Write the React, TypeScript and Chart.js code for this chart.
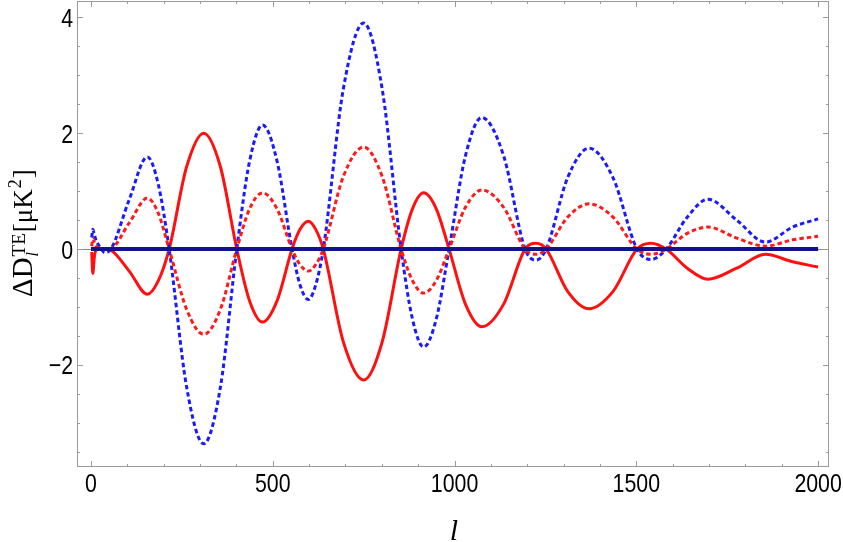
import React, { useEffect, useRef } from "react";
import { Chart, registerables } from "chart.js";
Chart.register(...registerables);

// multipole l
const ell = [2, 5, 9, 14, 25, 38, 55, 105, 155, 185, 215, 263, 310, 356, 401, 436, 472, 512, 553, 575, 598, 618, 639, 694, 750, 801, 853, 884, 915, 950, 985, 1030, 1075, 1135, 1194, 1224, 1252, 1311, 1370, 1436, 1502, 1541, 1582, 1640, 1697, 1776, 1855, 1930, 2000];

// red solid
const redSolid = [-0.05, -0.42, -0.15, -0.02, 0.0, 0.0, -0.02, -0.38, -0.78, -0.55, 0, 1.42, 2.0, 1.42, 0, -0.89, -1.26, -0.89, 0, 0.34, 0.48, 0.34, 0, -1.6, -2.26, -1.6, 0, 0.69, 0.97, 0.69, 0, -0.95, -1.34, -0.95, 0, 0.1, 0, -0.73, -1.03, -0.73, 0, 0.1, 0, -0.33, -0.52, -0.33, -0.09, -0.22, -0.31];

// red dotted
const redDotted = [0.05, 0.18, 0.12, 0.05, 0.01, 0.0, 0.01, 0.45, 0.88, 0.62, 0, -1.04, -1.47, -1.04, 0, 0.69, 0.97, 0.69, 0, -0.27, -0.38, -0.27, 0, 1.25, 1.76, 1.25, 0, -0.54, -0.76, -0.54, 0, 0.72, 1.02, 0.72, 0, -0.09, 0, 0.55, 0.78, 0.55, 0, -0.09, 0, 0.27, 0.38, 0.19, 0.05, 0.16, 0.22];

// blue dotted
const blueDotted = [0.2, 0.34, 0.25, 0.15, 0.03, -0.06, 0.0, 0.85, 1.59, 1.12, 0, -2.38, -3.36, -2.38, 0, 1.51, 2.14, 1.51, 0, -0.62, -0.87, -0.62, 0, 2.76, 3.9, 2.76, 0, -1.2, -1.69, -1.2, 0, 1.61, 2.27, 1.61, 0, -0.19, 0, 1.23, 1.74, 1.23, 0, -0.18, 0, 0.55, 0.86, 0.5, 0.12, 0.38, 0.52];

// reference (zero) line
const refL = [0, 2000];
const refV = [0, 0];

const xTickLabels = [0, 500, 1000, 1500, 2000];
const yTickLabels = [-2, 0, 2, 4];
const xMinorTicks = Array.from({ length: 21 }, (_, i) => i * 100);
const yMinorTicks = [-3.5, -3, -2.5, -2, -1.5, -1, -0.5, 0, 0.5, 1, 1.5, 2, 2.5, 3, 3.5, 4];

const X_MIN = -38.5;
const X_MAX = 2030;
const Y_MIN = -3.76;
const Y_MAX = 4.28;

const pts = (xs: number[], ys: number[]) => xs.map((x, i) => ({ x, y: ys[i] }));
const fmt = (v: number) => (v < 0 ? "\u2212" + Math.abs(v) : String(v));

const zeroAxisPlugin = {
  id: "zeroAxis",
  beforeDatasetsDraw(chart: any) {
    const { ctx, chartArea, scales } = chart;
    const y = Math.round(scales.y.getPixelForValue(0)) + 0.5;
    ctx.save();
    ctx.strokeStyle = "#8a8a8a";
    ctx.lineWidth = 1.2;
    ctx.beginPath();
    ctx.moveTo(chartArea.left, y);
    ctx.lineTo(chartArea.right, y);
    ctx.stroke();
    ctx.restore();
  },
};

const SQUEEZE = 0.82;
const drawSqueezed = (ctx: any, text: string, x: number, y: number, align: "center" | "right") => {
  ctx.save();
  ctx.translate(x, y);
  ctx.scale(SQUEEZE, 1);
  ctx.textAlign = align;
  ctx.fillText(text, 0, 0);
  ctx.restore();
};

const framePlugin = {
  id: "frame",
  afterDraw(chart: any) {
    const { ctx, chartArea, scales } = chart;
    const { left, right, top, bottom } = chartArea;
    ctx.save();
    ctx.strokeStyle = "#9a9a9a";
    ctx.lineWidth = 1;
    ctx.strokeRect(left + 0.5, top + 0.5, right - left - 1, bottom - top - 1);
    ctx.beginPath();
    for (const v of xMinorTicks) {
      const px = Math.round(scales.x.getPixelForValue(v)) + 0.5;
      const len = v % 500 === 0 ? 6 : 3;
      ctx.moveTo(px, bottom);
      ctx.lineTo(px, bottom - len);
      ctx.moveTo(px, top);
      ctx.lineTo(px, top + len);
    }
    for (const v of yMinorTicks) {
      const py = Math.round(scales.y.getPixelForValue(v)) + 0.5;
      const len = v % 2 === 0 ? 6 : 3;
      ctx.moveTo(left, py);
      ctx.lineTo(left + len, py);
      ctx.moveTo(right, py);
      ctx.lineTo(right - len, py);
    }
    ctx.stroke();

    // tick labels
    ctx.fillStyle = "#000";
    ctx.font = '26px "Liberation Sans", Arial, sans-serif';
    ctx.textBaseline = "alphabetic";
    for (const v of xTickLabels) {
      drawSqueezed(ctx, fmt(v), scales.x.getPixelForValue(v), bottom + 25, "center");
    }
    for (const v of yTickLabels) {
      drawSqueezed(ctx, fmt(v), left - 4, scales.y.getPixelForValue(v) + 9.5, "right");
    }

    // x-axis title
    ctx.font = 'italic 30px "Liberation Serif", serif';
    ctx.textAlign = "center";
    ctx.fillText("l", (left + right) / 2 + 1, 540);

    // y-axis title (rotated)
    ctx.translate(32, 297);
    ctx.rotate(-Math.PI / 2);
    ctx.textAlign = "left";
    let x = 0;
    ctx.font = '29px "Liberation Serif", serif';
    ctx.fillText("ΔD", x, 0);
    x += ctx.measureText("ΔD").width;
    ctx.font = '19px "Liberation Serif", serif';
    ctx.fillText("TE", x + 1, -7);
    const wTE = ctx.measureText("TE").width;
    ctx.font = 'italic 16px "Liberation Serif", serif';
    ctx.fillText("l", x + 1, 6);
    x += wTE + 2;
    ctx.font = '27px "Liberation Serif", serif';
    ctx.fillText("[μK", x, 0);
    x += ctx.measureText("[μK").width;
    ctx.font = '18px "Liberation Serif", serif';
    ctx.fillText("2", x + 1, -11);
    x += ctx.measureText("2").width + 2;
    ctx.font = '27px "Liberation Serif", serif';
    ctx.fillText("]", x, 0);
    ctx.restore();
  },
};

export default function App() {
  const ref = useRef<HTMLCanvasElement | null>(null);
  useEffect(() => {
    if (!ref.current) return;
    const chart = new Chart(ref.current, {
      type: "line",
      data: {
        datasets: [
          {
            data: pts(refL, refV),
            borderColor: "#12128f",
            borderWidth: 4,
            pointRadius: 0,
          },
          {
            data: pts(ell, redDotted),
            borderColor: "#ff1a1a",
            borderWidth: 3,
            borderDash: [4.5, 3],
            pointRadius: 0,
            cubicInterpolationMode: "monotone",
          },
          {
            data: pts(ell, blueDotted),
            borderColor: "#1a1aff",
            borderWidth: 3,
            borderDash: [4.5, 3],
            pointRadius: 0,
            cubicInterpolationMode: "monotone",
          },
          {
            data: pts(ell, redSolid),
            borderColor: "#ff1010",
            borderWidth: 3,
            pointRadius: 0,
            cubicInterpolationMode: "monotone",
          },
        ],
      },
      options: {
        animation: false,
        responsive: false,
        maintainAspectRatio: false,
        layout: { padding: { left: 0, right: 14, top: 1, bottom: 0 } },
        plugins: { legend: { display: false }, tooltip: { enabled: false } },
        scales: {
          x: {
            type: "linear",
            min: X_MIN,
            max: X_MAX,
            grid: { display: false, drawTicks: false },
            border: { display: false },
            ticks: { display: false },
            afterFit: (s: any) => {
              s.height = 75;
              s.paddingLeft = 0;
              s.paddingRight = 0;
            },
          },
          y: {
            type: "linear",
            min: Y_MIN,
            max: Y_MAX,
            grid: { display: false, drawTicks: false },
            border: { display: false },
            ticks: { display: false },
            afterFit: (s: any) => {
              s.width = 77;
              s.paddingTop = 0;
              s.paddingBottom = 0;
            },
          },
        },
      },
      plugins: [zeroAxisPlugin, framePlugin],
    } as any);
    return () => chart.destroy();
  }, []);
  return (
    <div style={{ position: "fixed", left: 0, top: 0, width: 843, height: 542, background: "#fff" }}>
      <canvas ref={ref} width={843} height={542} style={{ display: "block" }} />
    </div>
  );
}
